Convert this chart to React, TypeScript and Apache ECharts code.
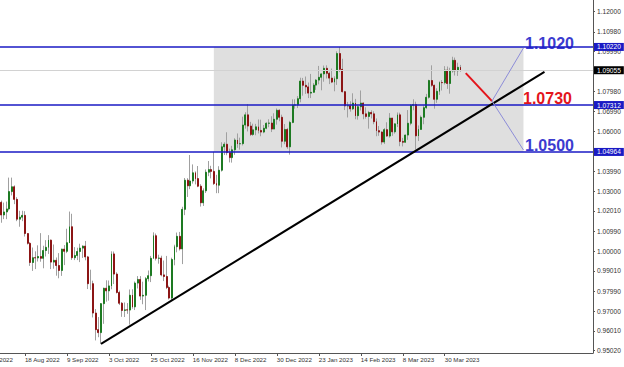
import React, { useEffect, useRef } from "react";
import * as echarts from "echarts";

// ---- Data (EUR/USD daily) ----
const opens = [
  1.0244, 1.0181, 1.0196, 1.0211, 1.0298, 1.0322, 1.0259, 1.016, 1.017, 1.0179,
  1.0088, 1.0039, 0.9943, 0.9967, 0.9966, 0.9973, 0.9964, 1.0003, 1.0019, 1.0055,
  0.9945, 0.9954, 0.9928, 0.9903, 1.001, 0.9999, 1.0042, 1.0122, 0.9967, 0.9978,
  0.9998, 1.0015, 1.0025, 0.9971, 0.9837, 0.9837, 0.969, 0.9607, 0.9592, 0.9737,
  0.9814, 0.9801, 0.9826, 0.9986, 0.9885, 0.9793, 0.9739, 0.9703, 0.9706, 0.9705,
  0.9779, 0.9721, 0.984, 0.9858, 0.9775, 0.9779, 0.9862, 0.9877, 0.9964, 1.0077,
  0.9964, 0.9965, 0.9881, 0.9873, 0.9818, 0.9765, 0.9958, 1.0022, 1.0074, 1.0011,
  1.0209, 1.0355, 1.0327, 1.0351, 1.0392, 1.0363, 1.0325, 1.0242, 1.0302, 1.0395,
  1.0408, 1.0399, 1.0338, 1.033, 1.0405, 1.0522, 1.0535, 1.0493, 1.0468, 1.0507,
  1.0556, 1.0537, 1.0538, 1.0631, 1.0682, 1.0626, 1.0584, 1.0607, 1.0622, 1.0604,
  1.0596, 1.0615, 1.064, 1.0641, 1.0611, 1.066, 1.0705, 1.067, 1.055, 1.0609,
  1.0522, 1.0644, 1.0731, 1.0732, 1.0763, 1.0851, 1.083, 1.0822, 1.0791, 1.0795,
  1.0831, 1.0856, 1.087, 1.0887, 1.0915, 1.089, 1.0866, 1.0846, 1.0863, 1.0989,
  1.091, 1.0798, 1.0727, 1.0728, 1.0712, 1.0741, 1.0678, 1.0723, 1.0741, 1.0687,
  1.0674, 1.0694, 1.0687, 1.0648, 1.0603, 1.0596, 1.0546, 1.0608, 1.0576, 1.0666,
  1.0597, 1.0637, 1.0682, 1.0549, 1.0545, 1.0581, 1.064, 1.073, 1.0734, 1.0577,
  1.0609, 1.067, 1.0718, 1.077, 1.0854, 1.083, 1.076, 1.08, 1.0844, 1.0843,
  1.0906, 1.0839, 1.0902, 1.0955, 1.0903, 1.092,
];
const closes = [
  1.0181, 1.0196, 1.0211, 1.0298, 1.0322, 1.0259, 1.016, 1.017, 1.0179, 1.0088,
  1.0039, 0.9943, 0.9967, 0.9966, 0.9973, 0.9964, 1.0003, 1.0019, 1.0055, 0.9945,
  0.9954, 0.9928, 0.9903, 1.001, 0.9999, 1.0042, 1.0122, 0.9967, 0.9978, 0.9998,
  1.0015, 1.0025, 0.9971, 0.9837, 0.9837, 0.969, 0.9607, 0.9592, 0.9737, 0.9814,
  0.9801, 0.9826, 0.9986, 0.9885, 0.9793, 0.9739, 0.9703, 0.9706, 0.9705, 0.9779,
  0.9721, 0.984, 0.9858, 0.9775, 0.9779, 0.9862, 0.9877, 0.9964, 1.0077, 0.9964,
  0.9965, 0.9881, 0.9873, 0.9818, 0.9765, 0.9958, 1.0022, 1.0074, 1.0011, 1.0209,
  1.0355, 1.0327, 1.0351, 1.0392, 1.0363, 1.0325, 1.0242, 1.0302, 1.0395, 1.0408,
  1.0399, 1.0338, 1.033, 1.0405, 1.0522, 1.0535, 1.0493, 1.0468, 1.0507, 1.0556,
  1.0537, 1.0538, 1.0631, 1.0682, 1.0626, 1.0584, 1.0607, 1.0622, 1.0604, 1.0596,
  1.0615, 1.064, 1.0641, 1.0611, 1.066, 1.0705, 1.067, 1.055, 1.0609, 1.0522,
  1.0644, 1.0731, 1.0732, 1.0763, 1.0851, 1.083, 1.0822, 1.0791, 1.0795, 1.0831,
  1.0856, 1.087, 1.0887, 1.0915, 1.089, 1.0866, 1.0846, 1.0863, 1.0989, 1.091,
  1.0798, 1.0727, 1.0728, 1.0712, 1.0741, 1.0678, 1.0723, 1.0741, 1.0687, 1.0674,
  1.0694, 1.0687, 1.0648, 1.0603, 1.0596, 1.0546, 1.0608, 1.0576, 1.0666, 1.0597,
  1.0637, 1.0682, 1.0549, 1.0545, 1.0581, 1.064, 1.073, 1.0734, 1.0577, 1.0609,
  1.067, 1.0718, 1.077, 1.0854, 1.083, 1.076, 1.08, 1.0844, 1.0843, 1.0906,
  1.0839, 1.0902, 1.0955, 1.0903, 1.092, 1.0906,
];
const lows = [
  1.0142, 1.016, 1.016, 1.0203, 1.0279, 1.0235, 1.015, 1.0122, 1.015, 1.0073,
  1.0033, 0.9926, 0.9901, 0.991, 0.9948, 0.9947, 0.9914, 0.9973, 0.9986, 0.991,
  0.9912, 0.9877, 0.9864, 0.9876, 0.993, 0.999, 1.004, 0.9956, 0.9955, 0.9955,
  0.9945, 0.9966, 0.9954, 0.981, 0.9806, 0.9668, 0.9553, 0.9569, 0.9536, 0.9636,
  0.9747, 0.9752, 0.9809, 0.9835, 0.9788, 0.973, 0.9671, 0.967, 0.9686, 0.9632,
  0.9712, 0.9705, 0.9813, 0.9756, 0.9734, 0.9705, 0.9848, 0.9845, 0.9962, 0.9953,
  0.9937, 0.9874, 0.985, 0.981, 0.9758, 0.9752, 0.9929, 0.9994, 1.0003, 0.9935,
  1.018, 1.0271, 1.031, 1.0338, 1.0334, 1.032, 1.0223, 1.0226, 1.0291, 1.0375,
  1.0364, 1.0331, 1.029, 1.029, 1.0398, 1.0481, 1.048, 1.0444, 1.0443, 1.0482,
  1.0517, 1.0508, 1.0529, 1.0613, 1.0599, 1.0576, 1.0577, 1.058, 1.0589, 1.0575,
  1.059, 1.061, 1.062, 1.0596, 1.0611, 1.0633, 1.065, 1.0519, 1.0535, 1.0512,
  1.0483, 1.064, 1.0713, 1.0716, 1.0745, 1.0778, 1.0787, 1.0766, 1.0766, 1.0792,
  1.0807, 1.0835, 1.0805, 1.0848, 1.0864, 1.0836, 1.0841, 1.08, 1.0832, 1.0896,
  1.0794, 1.0706, 1.0669, 1.0698, 1.0706, 1.066, 1.0658, 1.0704, 1.066, 1.0663,
  1.0613, 1.0664, 1.0635, 1.0575, 1.0577, 1.0533, 1.0536, 1.0572, 1.0568, 1.0577,
  1.0588, 1.0621, 1.0525, 1.0524, 1.0543, 1.0557, 1.063, 1.0705, 1.0508, 1.0551,
  1.0609, 1.0635, 1.0712, 1.0763, 1.0822, 1.0713, 1.0742, 1.0782, 1.0804, 1.0834,
  1.0812, 1.0788, 1.0893, 1.0879, 1.0877, 1.0898,
];
const highs = [
  1.0253, 1.0243, 1.0248, 1.0368, 1.0368, 1.0329, 1.027, 1.0202, 1.0202, 1.02,
  1.009, 1.0045, 1.0018, 0.9999, 1.0029, 1.009, 1.0027, 1.0055, 1.008, 1.0058,
  1.0033, 0.9968, 0.999, 1.0012, 1.003, 1.0112, 1.0198, 1.0187, 1.002, 1.0017,
  1.0037, 1.0029, 1.0051, 0.9976, 0.9907, 0.9852, 0.971, 0.967, 0.974, 0.9817,
  0.9854, 0.9853, 0.9999, 0.9998, 0.9894, 0.9802, 0.9745, 0.9743, 0.974, 0.9808,
  0.9809, 0.9848, 0.9875, 0.9875, 0.9847, 0.987, 0.9903, 0.9976, 1.0094, 1.0088,
  0.9982, 0.9977, 0.9953, 0.9976, 0.9827, 0.9967, 1.0032, 1.0093, 1.0096, 1.0222,
  1.0366, 1.0365, 1.0481, 1.0434, 1.0399, 1.0426, 1.0335, 1.0314, 1.0409, 1.0451,
  1.0427, 1.0497, 1.0382, 1.0425, 1.0545, 1.0545, 1.0595, 1.0513, 1.0527, 1.0565,
  1.0589, 1.0568, 1.0673, 1.0695, 1.0736, 1.0647, 1.0638, 1.0637, 1.0659, 1.0658,
  1.0631, 1.0645, 1.066, 1.0675, 1.069, 1.0714, 1.071, 1.0683, 1.0636, 1.0617,
  1.0652, 1.076, 1.076, 1.0776, 1.0868, 1.0867, 1.0874, 1.0844, 1.0887, 1.0841,
  1.0861, 1.0927, 1.089, 1.0929, 1.093, 1.0898, 1.0914, 1.0875, 1.1, 1.1022,
  1.0963, 1.0802, 1.0747, 1.075, 1.079, 1.0762, 1.0733, 1.0804, 1.0745, 1.072,
  1.0702, 1.0705, 1.07, 1.0664, 1.0626, 1.06, 1.0616, 1.0645, 1.0691, 1.0667,
  1.064, 1.0694, 1.0693, 1.0567, 1.0584, 1.0706, 1.0736, 1.076, 1.0748, 1.0629,
  1.0679, 1.0729, 1.0787, 1.0858, 1.093, 1.0834, 1.0815, 1.085, 1.0856, 1.0926,
  1.0924, 1.0918, 1.0973, 1.0969, 1.0943, 1.0932,
];

// Price-axis tick labels shown in the picture
const yTickValues = [
  1.12, 1.1098, 1.0999, 1.0798, 1.0699, 1.06, 1.0399, 1.03, 1.0201, 1.0099,
  1.0, 0.9901, 0.9799, 0.97, 0.9601, 0.9502,
];

// Horizontal levels
const levelHigh = 1.1022;
const levelMid = 1.07312;
const levelLow = 1.04964;
const lastPrice = 1.09055;

// Annotation anchors: [bar index, price]
const trendStart = [38, 0.9536];
const trendEnd = [207, 1.0897];
const arrowStart = [177, 1.0891];
const arrowEnd = [187, 1.0751];
const targetUp = [199, 1.1017];
const targetDown = [199, 1.0506];
const boxStartIndex = 81;
const boxEndIndex = 199;

// Annotation texts
const targetTexts = ["1.1020", "1.0730", "1.0500"];
const cutDateText = "2022";

const START_UTC = Date.UTC(2022, 7, 5);
const SLOT_COUNT = 226;
const MONTHS = ["Jan", "Feb", "Mar", "Apr", "May", "Jun", "Jul", "Aug", "Sep", "Oct", "Nov", "Dec"];

function buildDates(count: number): string[] {
  const out: string[] = [];
  let t = START_UTC;
  while (out.length < count) {
    const d = new Date(t);
    const wd = d.getUTCDay();
    if (wd !== 0 && wd !== 6) {
      out.push(`${d.getUTCDate()} ${MONTHS[d.getUTCMonth()]} ${d.getUTCFullYear()}`);
    }
    t += 86400000;
  }
  return out;
}

const FONT = '"Liberation Sans", Arial, sans-serif';
const BLUE = "#1a1ac4";
const TEXT_BLUE = "#3b3bcf";
const RED = "#e3141b";
const WICK = "#a0a0a0";
const BULL = "#1d7a22";
const BEAR = "#8c1515";

export default function App() {
  const ref = useRef<HTMLDivElement>(null);

  useEffect(() => {
    if (!ref.current) return;
    const chart = echarts.init(ref.current, undefined, { renderer: "svg" });
    const dates = buildDates(SLOT_COUNT);
    const n = opens.length;
    const full = opens.map((o, i) => [o, closes[i], lows[i], highs[i]]);
    const bodies = opens.map((o, i) => [o, closes[i], Math.min(o, closes[i]), Math.max(o, closes[i])]);
    const showIdx = (i: number) => i >= 9 && i < n && (i - 9) % 16 === 0;
    const at = (p: number[]) => ({ coord: [dates[p[0]], p[1]] });

    const levelLabel = (bg: string) => ({
      show: true,
      position: "end",
      distance: 1,
      formatter: (p: any) => Number(p.value).toFixed(5),
      color: "#ffffff",
      backgroundColor: bg,
      padding: [1, 3, 1, 3],
      fontSize: 6.6,
      lineHeight: 6,
      fontFamily: FONT,
    });

    chart.setOption({
      animation: false,
      backgroundColor: "#ffffff",
      grid: { left: 0, top: 0, right: 31, bottom: 14 },
      xAxis: {
        type: "category",
        data: dates,
        boundaryGap: true,
        axisLine: { lineStyle: { color: "#555", width: 1 } },
        axisTick: { show: true, alignWithLabel: true, interval: showIdx, length: 3, lineStyle: { color: "#555" } },
        axisLabel: {
          interval: showIdx,
          align: "left",
          margin: 3,
          fontSize: 6.2,
          color: "#333",
          fontFamily: FONT,
        },
        splitLine: { show: false },
      },
      yAxis: {
        type: "value",
        position: "right",
        min: 0.949,
        max: 1.1257,
        axisLine: { show: true, lineStyle: { color: "#555", width: 1 } },
        axisTick: { show: true, length: 2, customValues: yTickValues, lineStyle: { color: "#555" } },
        axisLabel: {
          customValues: yTickValues,
          formatter: (v: number) => v.toFixed(5),
          fontSize: 6.6,
          margin: 4,
          padding: [2, 0, 0, 0],
          color: "#333",
          fontFamily: FONT,
        },
        splitLine: { show: false },
      },
      series: [
        {
          type: "candlestick",
          name: "range",
          data: full,
          barWidth: 1,
          z: 2,
          silent: true,
          itemStyle: { color: WICK, color0: WICK, borderColor: WICK, borderColor0: WICK, borderWidth: 1 },
          markArea: {
            silent: true,
            z: 1,
            itemStyle: { color: "#dfdfdf" },
            data: [[{ xAxis: dates[boxStartIndex], yAxis: levelHigh }, { xAxis: dates[boxEndIndex], yAxis: levelLow }]],
          },
          markLine: {
            silent: true,
            precision: 5,
            symbol: ["none", "none"],
            z: 5,
            data: [
              { yAxis: lastPrice, lineStyle: { color: "#d2d2d2", width: 1, type: "solid" }, label: levelLabel("#000000") },
              { yAxis: levelHigh, lineStyle: { color: BLUE, width: 1.6, type: "solid" }, label: levelLabel(BLUE) },
              { yAxis: levelMid, lineStyle: { color: BLUE, width: 1.6, type: "solid" }, label: levelLabel(BLUE) },
              { yAxis: levelLow, lineStyle: { color: BLUE, width: 1.6, type: "solid" }, label: levelLabel(BLUE) },
              [
                { ...at(trendStart), lineStyle: { color: "#000000", width: 2, type: "solid" }, label: { show: false } },
                at(trendEnd),
              ],
              [
                { ...at(arrowStart), lineStyle: { color: RED, width: 2, type: "solid" }, label: { show: false } },
                at(arrowEnd),
              ],
              [
                { ...at(arrowEnd), lineStyle: { color: "#8c8cd8", width: 1, type: "solid" }, label: { show: false } },
                at(targetUp),
              ],
              [
                { ...at(arrowEnd), lineStyle: { color: "#8c8cd8", width: 1, type: "solid" }, label: { show: false } },
                at(targetDown),
              ],
            ],
          },
        },
        {
          type: "candlestick",
          name: "body",
          data: bodies,
          barWidth: 1.4,
          z: 3,
          silent: true,
          itemStyle: { color: BULL, color0: BEAR, borderColor: BULL, borderColor0: BEAR, borderWidth: 1 },
        },
      ],
      graphic: [
        {
          type: "text",
          x: 525,
          y: 43,
          silent: true,
          style: { text: targetTexts[0], fill: TEXT_BLUE, font: `bold 16px ${FONT}`, verticalAlign: "middle" },
        },
        {
          type: "text",
          x: 523,
          y: 98,
          silent: true,
          style: { text: targetTexts[1], fill: RED, font: `bold 16px ${FONT}`, verticalAlign: "middle" },
        },
        {
          type: "text",
          x: 525,
          y: 145,
          silent: true,
          style: { text: targetTexts[2], fill: TEXT_BLUE, font: `bold 16px ${FONT}`, verticalAlign: "middle" },
        },
        {
          type: "text",
          x: 13,
          y: 359,
          silent: true,
          style: { text: cutDateText, fill: "#333", font: `6.2px ${FONT}`, align: "right", verticalAlign: "middle" },
        },
      ],
    });

    return () => chart.dispose();
  }, []);

  return (
    <div
      ref={ref}
      style={{ position: "fixed", left: 0, top: 0, width: 624, height: 367, background: "#fff" }}
    />
  );
}
